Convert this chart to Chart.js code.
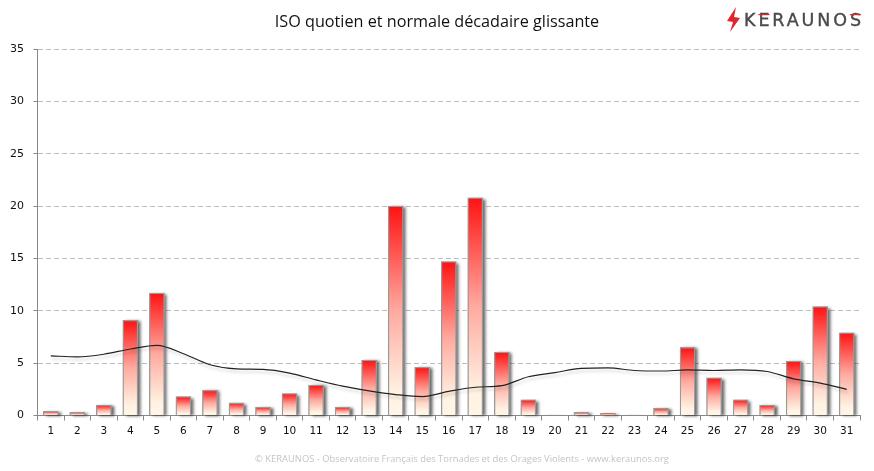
<!DOCTYPE html>
<html><head><meta charset="utf-8">
<script src="https://cdn.jsdelivr.net/npm/chart.js@4"></script>
<style>html,body{margin:0;padding:0;background:#fff;overflow:hidden}canvas{display:block}</style>
</head><body><canvas id="c" width="874" height="471"></canvas>
<script>
const days = ["1","2","3","4","5","6","7","8","9","10","11","12","13","14","15","16","17","18","19","20","21","22","23","24","25","26","27","28","29","30","31"];
const isoQuotien = [0.4,0.3,1.0,9.1,11.7,1.8,2.4,1.2,0.8,2.1,2.9,0.8,5.3,20.0,4.6,14.7,20.8,6.05,1.5,0.05,0.3,0.2,0.05,0.7,6.5,3.6,1.5,1.0,5.2,10.4,7.9];
const normale = [5.7,5.6,5.85,6.35,6.7,5.9,4.85,4.45,4.4,4.05,3.4,2.8,2.35,2.0,1.8,2.3,2.7,2.85,3.7,4.1,4.5,4.55,4.3,4.25,4.35,4.3,4.35,4.2,3.5,3.1,2.5];
const titleText = "ISO quotien et normale décadaire glissante";
const footerText = "© KERAUNOS - Observatoire Français des Tornades et des Orages Violents - www.keraunos.org";
const logoText = "KERAUNOS";

const shadow = {
  id:'shadow',
  beforeDatasetDraw(chart,args){
    const c=chart.ctx; c.save();
    if(args.meta.type==='bar'){
      c.shadowColor='rgba(0,0,0,0.6)';c.shadowBlur=3;c.shadowOffsetX=3;c.shadowOffsetY=1;
      c.fillStyle='#aaa';
      args.meta.data.forEach(b=>{
        const h=b.base-b.y;
        if(h>0.8) c.fillRect(b.x-b.width/2,b.y,b.width,h);
      });
      c.restore(); c.save();
    } else {
      c.shadowColor='rgba(0,0,0,0.18)';c.shadowBlur=3;c.shadowOffsetX=1;c.shadowOffsetY=3;
    }
  },
  afterDatasetDraw(chart){chart.ctx.restore();}
};
const extras = {
  id:'extras',
  afterDraw(chart){
    const c=chart.ctx; c.save();
    c.textBaseline='middle';
    c.textAlign='center'; c.fillStyle='#c4c4c4'; c.font='9.4px "Open Sans", sans-serif';
    c.fillText(footerText,462,459);
    c.beginPath();
    [[736,7],[727,21],[733,22],[730,32],[740,18],[734,17]].forEach((p,i)=>i?c.lineTo(p[0],p[1]):c.moveTo(p[0],p[1]));
    c.closePath(); c.fillStyle='#e0262a'; c.fill();
    c.textAlign='left'; c.fillStyle='#4a4a4a'; c.strokeStyle='#4a4a4a'; c.lineWidth=0.4; c.font='17.5px "DejaVu Sans", sans-serif';
    c.letterSpacing='2.9px';
    c.fillText(logoText,744,21); c.strokeText(logoText,744,21);
    const xE=744+c.measureText('K').width, wE=c.measureText('E').width-2.9;
    const xS=744+c.measureText('KERAUNO').width, wS=c.measureText('S').width-2.9;
    c.fillStyle='#e0262a';
    c.fillRect(xE,14,wE,1.2); c.fillRect(xS,14,wS,1.2);
    c.restore();
  }
};
new Chart(document.getElementById('c'),{
  data:{labels:days,datasets:[
    {type:'line',order:0,data:normale,borderColor:'#222',borderWidth:1.2,pointRadius:0,cubicInterpolationMode:'monotone',fill:false},
    {type:'bar',order:1,data:isoQuotien,barThickness:15,borderColor:'#999999',borderWidth:1.3,
      backgroundColor(ctx){
        const y=ctx.chart.scales.y;
        if(!y || ctx.type!=='data' || !Number.isFinite(ctx.raw)) return '#ff8888';
        const top=y.getPixelForValue(ctx.raw), bot=y.getPixelForValue(0);
        if(!Number.isFinite(top)||!Number.isFinite(bot)) return '#ff8888';
        const g=ctx.chart.ctx.createLinearGradient(0,top,0,Math.max(bot,top+1));
        g.addColorStop(0,'#ff1212'); g.addColorStop(0.5,'#ffaaa0'); g.addColorStop(0.9,'#fff3e3'); g.addColorStop(1,'#fff5e6');
        return g;
      }}
  ]},
  options:{
    responsive:false,animation:false,
    layout:{padding:0},
    plugins:{legend:{display:false},tooltip:{enabled:false},
      title:{display:true,text:titleText,color:'#111',font:{family:'"Open Sans", sans-serif',size:16.2,weight:'normal'},padding:{top:13,bottom:16.6},position:'top'}},
    scales:{
      x:{grid:{drawOnChartArea:false,tickLength:5,color:'#888',offset:true},border:{color:'#888'},
        ticks:{color:'#111',font:{family:'"DejaVu Sans", sans-serif',size:10.5},maxRotation:0,autoSkip:false,padding:4},
        afterFit(s){s.height=55.5;}},
      y:{min:0,max:35,grid:{color:'#bdbdbd',tickLength:4,tickColor:'#888',tickBorderDash:[]},border:{color:'#888',dash:[5,3]},
        ticks:{stepSize:5,color:'#111',font:{family:'"DejaVu Sans", sans-serif',size:11},padding:9.5},
        afterFit(s){s.width=37.5;}},
      rightGap:{position:'right',min:0,max:35,grid:{display:false},border:{display:false},ticks:{display:false},
        afterFit(s){s.width=14;}}
    }
  },
  plugins:[shadow,extras]
});
</script></body></html>
